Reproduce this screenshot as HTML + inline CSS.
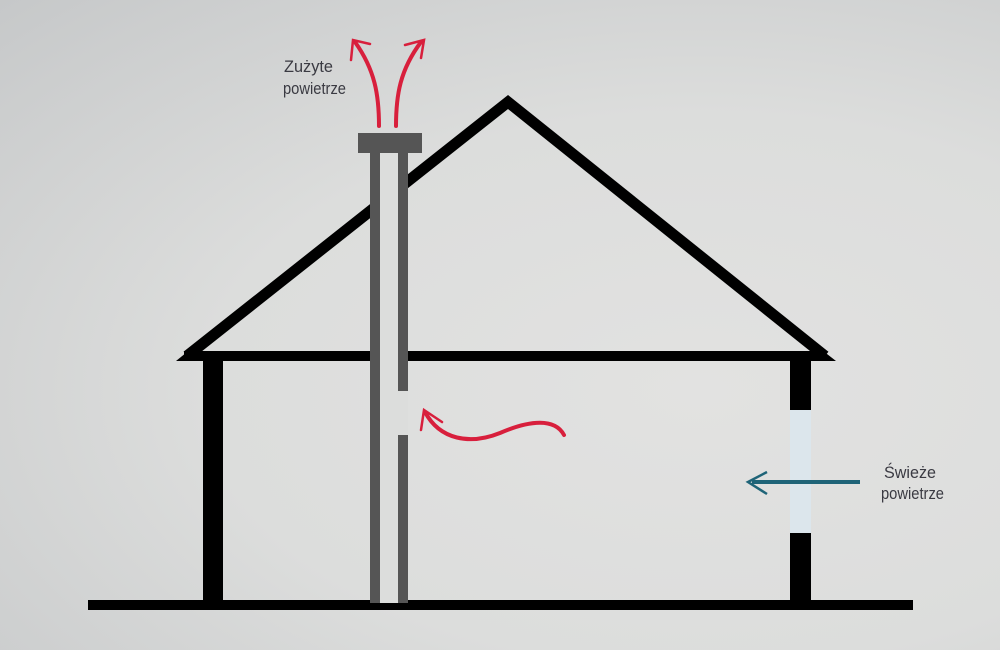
<!DOCTYPE html>
<html><head><style>
html,body{margin:0;padding:0;width:1000px;height:650px;overflow:hidden}
body{background:radial-gradient(ellipse at 70% 60%,#e2e2e1 0%,#dcdddc 50%,#c6c8c9 100%)}
svg{position:absolute;left:0;top:0}
text{font-family:"Liberation Sans",sans-serif;font-size:17px;fill:#3a3a42}
</style></head><body>
<svg width="1000" height="650" viewBox="0 0 1000 650">
<polyline points="187,356 508,102 825,356" fill="none" stroke="#000" stroke-width="11" stroke-linejoin="miter"/>
<rect x="184" y="351" width="640" height="10" fill="#000"/>
<polygon points="176,361 192,348 200,361" fill="#000"/>
<polygon points="836,361 818,347 810,361" fill="#000"/>
<rect x="203" y="356" width="20" height="248" fill="#000"/>
<rect x="790" y="356" width="21" height="248" fill="#000"/>
<rect x="790" y="410" width="21" height="123" fill="#dce6ec"/>
<rect x="88" y="600" width="825" height="10" fill="#000"/>
<rect x="370" y="150" width="38" height="453" fill="#dcdddc"/>
<rect x="370" y="150" width="10" height="453" fill="#555"/>
<rect x="398" y="150" width="10" height="241" fill="#555"/>
<rect x="398" y="435" width="10" height="168" fill="#555"/>
<rect x="358" y="133" width="64" height="20" fill="#555"/>
<g fill="none" stroke="#d81f3c" stroke-linecap="round">
<path d="M379,126 C379,95 375,70 355,42" stroke-width="4"/>
<path d="M351,60 L353,40 L370,44" stroke-width="2.5"/>
<path d="M396,126 C396,95 400,70 421,42" stroke-width="4"/>
<path d="M405,45 L424,40 L421,58" stroke-width="2.5"/>
<path d="M425,412 C440,440 470,445 500,433 C530,420 555,418 564,435" stroke-width="4"/>
<path d="M421,430 L424,410 L442,422" stroke-width="2.5"/>
</g>
<path d="M752,482 L860,482" stroke="#1f6478" stroke-width="4"/>
<path d="M767,472 L748,482 L767,494" fill="none" stroke="#1f6478" stroke-width="2.5"/>
<text x="284" y="72" textLength="49" lengthAdjust="spacingAndGlyphs">Zużyte</text>
<text x="283" y="94" textLength="63" lengthAdjust="spacingAndGlyphs">powietrze</text>
<text x="884" y="478" textLength="52" lengthAdjust="spacingAndGlyphs">Świeże</text>
<text x="881" y="499" textLength="63" lengthAdjust="spacingAndGlyphs">powietrze</text>
</svg>
</body></html>
